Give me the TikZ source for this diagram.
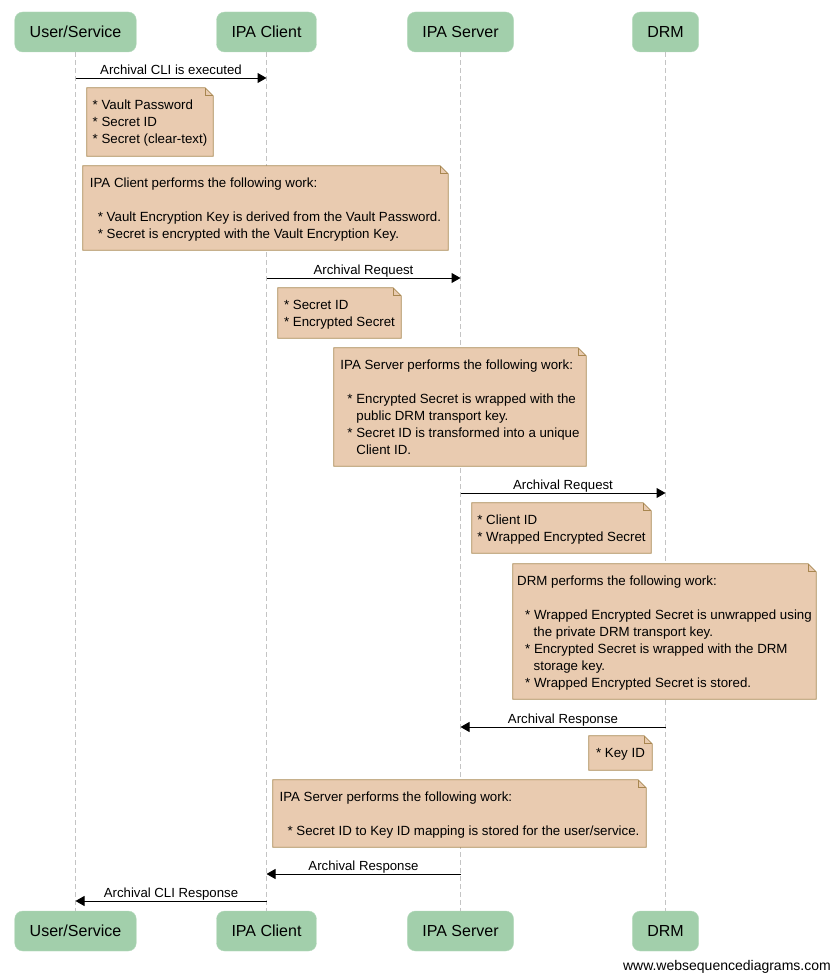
\documentclass[tikz,border=0pt]{standalone}
\usepackage{fontspec}
\setmainfont{Liberation Sans}
\usetikzlibrary{arrows.meta}

\definecolor{actorfill}{HTML}{A2CFAB}
\definecolor{actorline}{HTML}{B6DABD}
\definecolor{notefill}{HTML}{E9CBB0}
\definecolor{noteline}{HTML}{A8864F}
\definecolor{lifegray}{HTML}{C4C4C4}

\tikzset{
  actor/.style={rounded corners=8pt, fill=actorfill, draw=actorline, inner xsep=15pt, minimum height=40pt, font=\fontsize{16}{18}\selectfont},
  lifeline/.style={lifegray, dash pattern=on 5pt off 3pt, line width=0.8pt},
  msg/.style={line width=1pt, -{Triangle[length=9pt,width=10pt]}},
  msglabel/.style={midway, above, inner sep=1pt, text height=10pt, text depth=2pt, font=\fontsize{13.2}{15}\selectfont},
  notebox/.style={fill=notefill, inner sep=0pt, align=left, text depth=0pt, font=\fontsize{13.3}{17}\selectfont},
  notepen/.style={draw=noteline, line width=0.8pt}
}

\newcommand{\foldnote}[1]{%
  \fill[white] ([xshift=-8pt]#1.north east) -- (#1.north east) -- ([yshift=-8pt]#1.north east) -- cycle;
  \draw[notepen] (#1.north west) -- ([xshift=-8pt]#1.north east) -- ([yshift=-8pt]#1.north east) -- (#1.south east) -- (#1.south west) -- cycle;
  \draw[notepen] ([xshift=-8pt]#1.north east) -- ([xshift=-8pt,yshift=-8pt]#1.north east) -- ([yshift=-8pt]#1.north east);
}

\begin{document}
\begin{tikzpicture}[x=1pt,y=-1pt]
\useasboundingbox (0,0) rectangle (832,974);

% participants
\node[actor] (usrT) at (75.5,32) {User/Service};
\node[actor] (cliT) at (266.5,32) {IPA Client};
\node[actor] (srvT) at (460.5,32) {IPA Server};
\node[actor] (drmT) at (665.5,32) {DRM};
\node[actor] (usrB) at (75.5,931) {User/Service};
\node[actor] (cliB) at (266.5,931) {IPA Client};
\node[actor] (srvB) at (460.5,931) {IPA Server};
\node[actor] (drmB) at (665.5,931) {DRM};

\draw[lifeline] (usrT) -- (usrB);
\draw[lifeline] (cliT) -- (cliB);
\draw[lifeline] (srvT) -- (srvB);
\draw[lifeline] (drmT) -- (drmB);

% messages and notes
\draw[msg] (usrT |- 0,78) -- node[msglabel] {Archival CLI is executed} (cliT |- 0,78);

\node[notebox, minimum width=126pt, minimum height=68pt] (vault) at (150,122)
  {* Vault Password\\* Secret ID\\* Secret (clear-text)};
\foldnote{vault}

\node[notebox, minimum width=365pt, minimum height=84pt] (clientwork) at (265.5,208)
  {IPA Client performs the following work:\\[17pt]
   \hspace*{8pt}* Vault Encryption Key is derived from the Vault Password.\\
   \hspace*{8pt}* Secret is encrypted with the Vault Encryption Key.};
\foldnote{clientwork}

\draw[msg] (cliT |- 0,278) -- node[msglabel] {Archival Request} (srvT |- 0,278);

\node[notebox, minimum width=123pt, minimum height=50pt] (request) at (339.5,313)
  {* Secret ID\\* Encrypted Secret};
\foldnote{request}

\node[notebox, minimum width=252pt, minimum height=118pt] (serverwork) at (460,407)
  {IPA Server performs the following work:\\[17pt]
   \hspace*{7pt}* Encrypted Secret is wrapped with the\\
   \hspace*{16pt}public DRM transport key.\\
   \hspace*{7pt}* Secret ID is transformed into a unique\\
   \hspace*{16pt}Client ID.};
\foldnote{serverwork}

\draw[msg] (srvT |- 0,493) -- node[msglabel] {Archival Request} (drmT |- 0,493);

\node[notebox, minimum width=179pt, minimum height=50pt] (wrapped) at (561.5,528)
  {* Client ID\\* Wrapped Encrypted Secret};
\foldnote{wrapped}

\node[notebox, minimum width=303pt, minimum height=135pt] (drmwork) at (664.5,631.5)
  {DRM performs the following work:\\[17pt]
   \hspace*{8pt}* Wrapped Encrypted Secret is unwrapped using\\
   \hspace*{16.5pt}the private DRM transport key.\\
   \hspace*{8pt}* Encrypted Secret is wrapped with the DRM\\
   \hspace*{16.5pt}storage key.\\
   \hspace*{8pt}* Wrapped Encrypted Secret is stored.};
\foldnote{drmwork}

\draw[msg] (drmT |- 0,727) -- node[msglabel] {Archival Response} (srvT |- 0,727);

\node[notebox, minimum width=63pt, minimum height=34pt] (keyid) at (620.5,753)
  {* Key ID};
\foldnote{keyid}

\node[notebox, minimum width=373pt, minimum height=67pt] (mapping) at (459.5,813.5)
  {IPA Server performs the following work:\\[17pt]
   \hspace*{8pt}* Secret ID to Key ID mapping is stored for the user/service.};
\foldnote{mapping}

\draw[msg] (srvT |- 0,874) -- node[msglabel] {Archival Response} (cliT |- 0,874);
\draw[msg] (cliT |- 0,901) -- node[msglabel] {Archival CLI Response} (usrT |- 0,901);

\node[anchor=east, inner sep=0pt, font=\fontsize{14}{16}\selectfont] (credit) at (831,967) {www.websequencediagrams.com};

\end{tikzpicture}
\end{document}
